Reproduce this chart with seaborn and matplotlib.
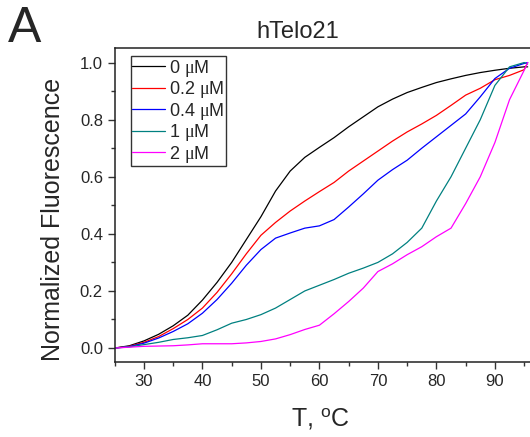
import numpy as np
import pandas as pd
import seaborn as sns
import matplotlib
matplotlib.use('Agg')
import matplotlib.pyplot as plt
from matplotlib.ticker import MultipleLocator

# temperature (C) and normalized fluorescence
temp = [25, 27.5, 30, 32.5, 35, 37.5, 40, 42.5, 45, 47.5, 50, 52.5, 55, 57.5, 60,
        62.5, 65, 67.5, 70, 72.5, 75, 77.5, 80, 82.5, 85, 87.5, 90, 92.5, 95, 95.6]
f_0 = [0.0, 0.008, 0.025, 0.048, 0.078, 0.115, 0.168, 0.23, 0.30, 0.38, 0.46, 0.55, 0.62, 0.668, 0.703,
       0.737, 0.775, 0.81, 0.845, 0.872, 0.895, 0.913, 0.93, 0.943, 0.955, 0.965, 0.973, 0.98, 0.985, 0.985]
f_02 = [0.0, 0.006, 0.02, 0.04, 0.068, 0.10, 0.14, 0.195, 0.26, 0.33, 0.395, 0.44, 0.48, 0.515, 0.548,
        0.58, 0.62, 0.655, 0.69, 0.725, 0.757, 0.785, 0.815, 0.85, 0.886, 0.91, 0.94, 0.955, 0.975, 1.0]
f_04 = [0.0, 0.005, 0.017, 0.035, 0.058, 0.085, 0.122, 0.17, 0.227, 0.29, 0.345, 0.385, 0.403, 0.42, 0.428,
        0.45, 0.494, 0.54, 0.588, 0.625, 0.658, 0.70, 0.74, 0.78, 0.82, 0.88, 0.944, 0.98, 0.997, 1.0]
f_1 = [0.0, 0.004, 0.012, 0.02, 0.03, 0.036, 0.044, 0.064, 0.087, 0.10, 0.117, 0.14, 0.17, 0.20, 0.22,
       0.24, 0.262, 0.28, 0.30, 0.33, 0.37, 0.42, 0.515, 0.60, 0.70, 0.80, 0.92, 0.985, 1.0, 0.995]
f_2 = [0.0, 0.003, 0.006, 0.007, 0.008, 0.011, 0.015, 0.015, 0.015, 0.018, 0.023, 0.032, 0.047, 0.065, 0.08,
       0.12, 0.163, 0.21, 0.268, 0.295, 0.327, 0.355, 0.39, 0.42, 0.506, 0.60, 0.72, 0.87, 0.973, 1.0]

labels = ['0 $\\mu$M', '0.2 $\\mu$M', '0.4 $\\mu$M', '1 $\\mu$M', '2 $\\mu$M']
colors = ['#000000', '#ff0000', '#0000ff', '#008080', '#ff00ff']

df = pd.concat([pd.DataFrame({'T': temp, 'F': f, 'conc': lab})
                for f, lab in zip([f_0, f_02, f_04, f_1, f_2], labels)])

sns.set_style('ticks')
plt.rcParams['font.family'] = ['Liberation Sans', 'DejaVu Sans']
plt.rcParams['mathtext.fontset'] = 'custom'
plt.rcParams['mathtext.rm'] = 'Liberation Sans'
plt.rcParams['mathtext.it'] = 'Liberation Serif'

fig = plt.figure(figsize=(5.30, 4.37), dpi=100)
ax = fig.add_axes([0.2164, 0.1709, 0.7836, 0.7186])

sns.lineplot(data=df, x='T', y='F', hue='conc', palette=dict(zip(labels, colors)),
             lw=0.9, ax=ax, sort=False, estimator=None)

ax.set_xlim(25, 96)
ax.set_ylim(-0.05, 1.05)
ax.xaxis.set_minor_locator(MultipleLocator(5))
ax.yaxis.set_major_locator(MultipleLocator(0.2))
ax.yaxis.set_minor_locator(MultipleLocator(0.1))
ax.set_xticks([30, 40, 50, 60, 70, 80, 90])
ax.yaxis.set_major_formatter(matplotlib.ticker.FormatStrFormatter('%.1f'))
ax.tick_params(which='major', length=5, width=1, labelsize=12, color='#333333')
ax.tick_params(which='minor', length=3, width=1, color='#333333')
ax.set_xlabel('')
ax.set_ylabel('')
ax.spines['right'].set_visible(False)
for s in ['left', 'bottom', 'top']:
    ax.spines[s].set_linewidth(1.1)
    ax.spines[s].set_color('#222222')

leg = ax.legend(loc='upper left', bbox_to_anchor=(0.0385, 0.975), borderaxespad=0,
                fontsize=13, frameon=True, fancybox=False, edgecolor='black',
                handlelength=1.8, handletextpad=0.25, labelspacing=0.03, borderpad=0.08)
leg.get_frame().set_linewidth(1.0)
for line in leg.get_lines():
    line.set_linewidth(0.9)

fig.text(0.015, 0.903, 'A', fontsize=36)
fig.text(0.562, 0.912, 'hTelo21', fontsize=17, ha='center')
fig.text(0.604, 0.025, 'T, $^\\mathrm{o}$C', fontsize=18, ha='center')
fig.text(0.10, 0.497, 'Normalized Fluorescence', fontsize=18, rotation=90,
         ha='center', va='center')

fig.savefig('out.png', dpi=100)
